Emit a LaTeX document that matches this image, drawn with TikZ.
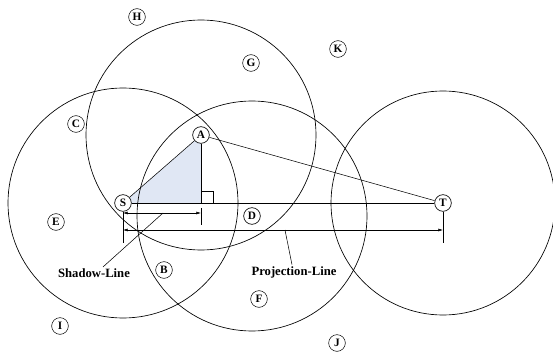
\documentclass[tikz,border=0pt]{standalone}
\usepackage{fontspec}
\setmainfont{Liberation Serif}
\usepackage{xcolor}
\usetikzlibrary{arrows.meta, positioning, calc, backgrounds}
\definecolor{shadefill}{RGB}{224,231,244}

\begin{document}
\begin{tikzpicture}[x=0.75pt, y=-0.75pt, line width=0.5pt,
    pt/.style={circle, draw, fill=white, minimum size=12.5pt, inner sep=0pt, font=\bfseries\fontsize{8.5}{10}\selectfont},
    lbl/.style={inner sep=1pt, font=\bfseries\fontsize{9.5}{11}\selectfont},
    dim/.style={{Latex[length=3.5pt,width=2.2pt]}-{Latex[length=3.5pt,width=2.2pt]}}]
    \useasboundingbox (0,0) rectangle (553,353);
    \node[pt] (S) at (123,203) {S};
    \node[pt] (A) at (201,135) {A};
    \node[pt] (T) at (443,203) {T};
    \node[pt] (D) at (252,216) {D};
    \coordinate (foot) at (A |- S);
    % ranges
    \draw (A) circle[radius=115];
    \draw (S) circle[radius=115];
    \draw (D) circle[radius=115];
    \draw (T) circle[radius=112];
    \begin{pgfonlayer}{background}
        \fill[shadefill] (S.center) -- (A.center) -- (foot) -- cycle;
    \end{pgfonlayer}
    \draw (S) -- (A);
    \draw (A) -- (foot);
    \draw (A) -- (T);
    \draw (S) -- (T);
    \draw (foot) rectangle ++(12,-12);
    % ticks and arrows
    \draw (S.south) -- ++(0,31);
    \draw (T.south) -- ++(0,31);
    \draw ($(foot)+(0,5)$) -- ++(0,17);
    \draw[dim] ($(S)+(0,10)$) -- ($(foot)+(0,10)$);
    \draw[dim] ($(S)+(0,27)$) -- ($(T)+(0,27)$);
    \coordinate (shd) at (163,213);
    \coordinate (prj) at (285,230);
    \node[lbl] (shadow) at (94,273) {Shadow-Line};
    \node[lbl] (proj) at (294,272) {Projection-Line};
    \draw ($(shadow.north)+(9,0)$) -- (shd);
    \draw ($(proj.north)+(-2,0)$) -- (prj);
    % other points
    \node[pt] (H) at (137,17) {H};
    \node[pt] (G) at (251,63) {G};
    \node[pt] (K) at (338,49) {K};
    \node[pt] (C) at (76,124) {C};
    \node[pt] (E) at (56,222) {E};
    \node[pt] (B) at (164,270) {B};
    \node[pt] (F) at (259,299) {F};
    \node[pt] (I) at (60,326) {I};
    \node[pt] (J) at (337,343) {J};
\end{tikzpicture}
\end{document}
